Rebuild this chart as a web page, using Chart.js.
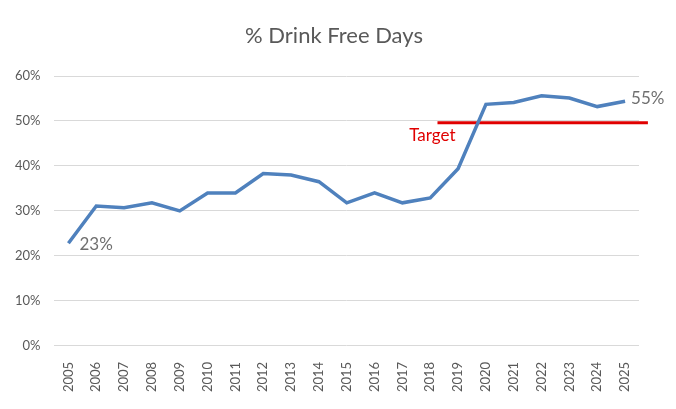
<!DOCTYPE html>
<html lang="en">
<head>
    <meta charset="UTF-8">
    <title>% Drink Free Days</title>
    <style>
        body {
            margin: 0;
            background: #fff;
        }
        #wrap {
            width: 676px;
            height: 409px;
        }
    </style>
</head>
<body>
    <div id="wrap"><canvas id="chart" width="676" height="409"></canvas></div>

    <script src="https://cdn.jsdelivr.net/npm/chart.js"></script>
    <script>
        const years = ['2005', '2006', '2007', '2008', '2009', '2010', '2011', '2012', '2013', '2014', '2015',
                       '2016', '2017', '2018', '2019', '2020', '2021', '2022', '2023', '2024', '2025'];
        const drinkFree = [22.8, 31.1, 30.7, 31.8, 30.0, 34.0, 34.0, 38.3, 38.0, 36.5, 31.8,
                           34.0, 31.8, 32.9, 39.4, 53.7, 54.1, 55.6, 55.1, 53.2, 54.4];
        const endLabels = ['23%', '55%'];
        const targetValue = 49.6;
        const targetSpan = [13.26, 20.82];   // category index where the target line starts / ends
        const yTicks = [0, 10, 20, 30, 40, 50, 60];
        const chartTitle = '% Drink Free Days';

        const fontName = 'Lato, "Open Sans", sans-serif';

        // title is centred on the whole canvas (the built-in one centres between the paddings)
        const titlePlugin = {
            id: 'canvasTitle',
            afterDraw(chart) {
                const ctx = chart.ctx;
                ctx.save();
                ctx.font = '22px ' + fontName;
                ctx.fillStyle = '#595959';
                ctx.textAlign = 'center';
                ctx.textBaseline = 'middle';
                ctx.fillText(chartTitle, chart.width / 2 - 4, 36);
                ctx.restore();
            }
        };

        const labelPlugin = {
            id: 'pointLabels',
            afterDatasetsDraw(chart) {
                const ctx = chart.ctx;
                const pts = chart.getDatasetMeta(0).data;
                const first = pts[0];
                const last = pts[pts.length - 1];
                ctx.save();
                ctx.font = '17px ' + fontName;
                ctx.fillStyle = '#6f6f6f';
                ctx.textBaseline = 'middle';
                ctx.textAlign = 'left';
                ctx.fillText(endLabels[0], first.x + 11, first.y + 1);
                ctx.fillText(endLabels[1], last.x + 6, last.y - 3);

                const tMeta = chart.getDatasetMeta(1).data;
                ctx.font = '17px ' + fontName;
                ctx.fillStyle = '#e00000';
                ctx.textAlign = 'right';
                ctx.fillText('Target', tMeta[0].x + 18, tMeta[0].y + 13);
                ctx.restore();
            }
        };

        new Chart(document.getElementById('chart'), {
            type: 'line',
            data: {
                labels: years,
                datasets: [{
                    data: drinkFree,
                    borderColor: '#4f81bd',
                    borderWidth: 3.5,
                    pointRadius: 0,
                    tension: 0,
                    fill: false
                }, {
                    data: targetSpan.map(x => ({ x: x, y: targetValue })),
                    xAxisID: 'x2',
                    borderColor: '#e00000',
                    borderWidth: 3,
                    pointRadius: 0,
                    clip: false
                }]
            },
            options: {
                responsive: false,
                animation: false,
                layout: {
                    padding: { left: 1, right: 37, top: 76, bottom: 9 }
                },
                plugins: {
                    legend: { display: false },
                    tooltip: { enabled: false },
                    title: { display: false }
                },
                scales: {
                    x: {
                        offset: true,
                        grid: { display: false },
                        border: { display: false },
                        ticks: {
                            color: '#595959',
                            font: { family: fontName, size: 13 },
                            maxRotation: 90,
                            minRotation: 90,
                            padding: 8
                        }
                    },
                    x2: {
                        type: 'linear',
                        display: false,
                        min: -0.5,
                        max: years.length - 0.5
                    },
                    y: {
                        min: yTicks[0],
                        max: yTicks[yTicks.length - 1],
                        border: { display: false },
                        grid: { color: '#d9d9d9', drawTicks: false },
                        afterBuildTicks: axis => {
                            axis.ticks = yTicks.map(v => ({ value: v }));
                        },
                        ticks: {
                            color: '#595959',
                            font: { family: fontName, size: 13 },
                            padding: 14,
                            callback: v => v + '%'
                        }
                    }
                }
            },
            plugins: [labelPlugin, titlePlugin]
        });
    </script>
</body>
</html>
